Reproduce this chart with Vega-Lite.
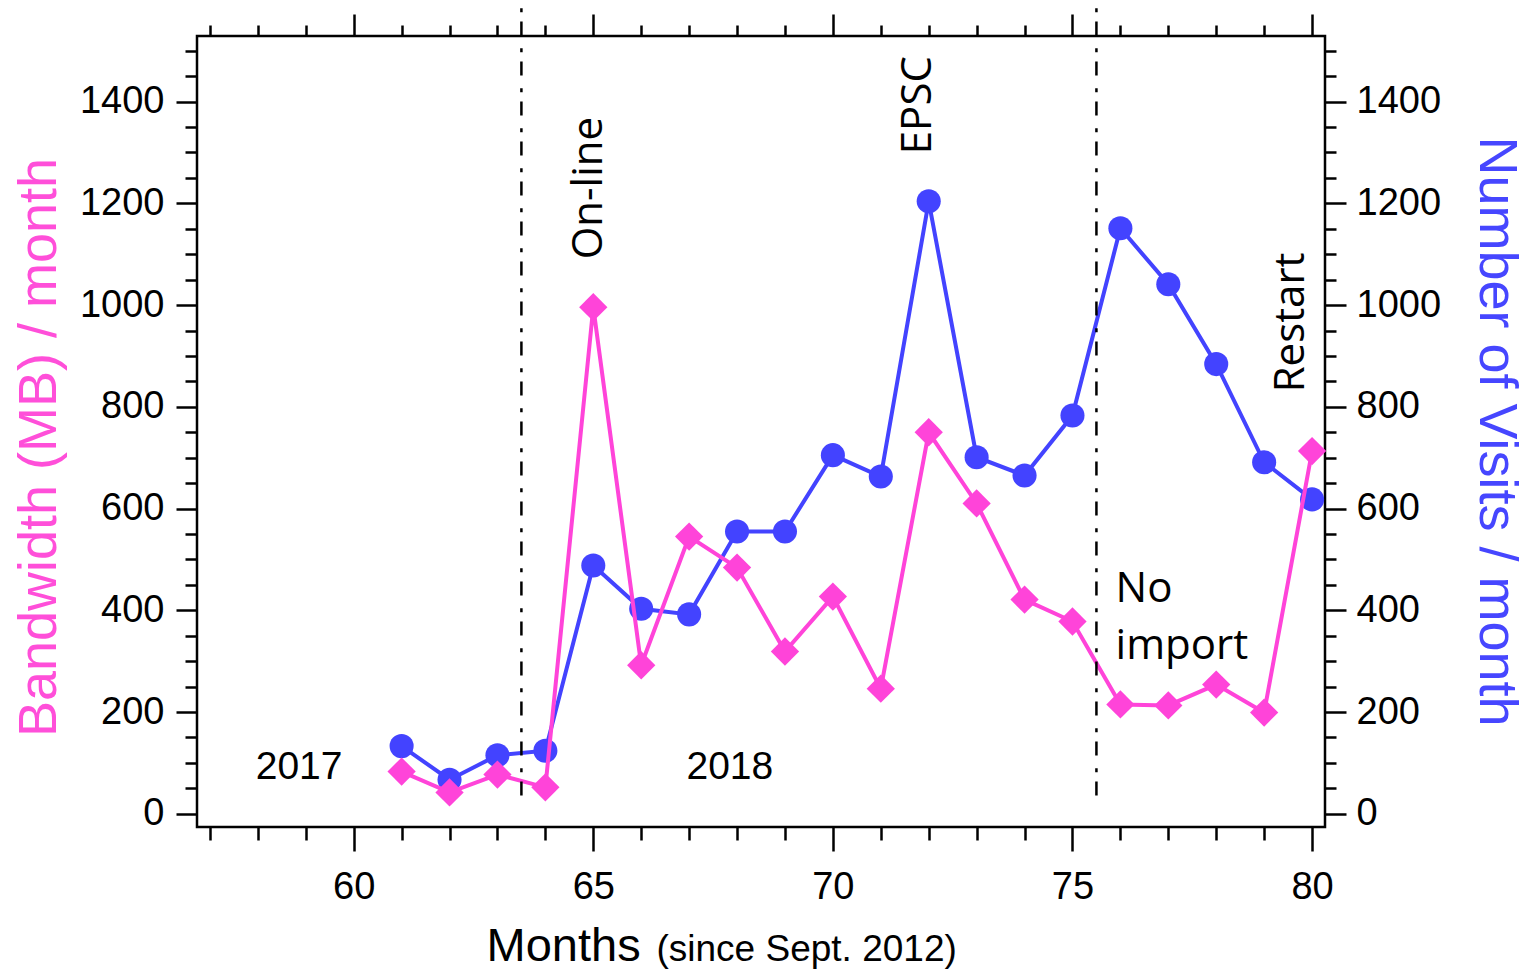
{
  "$schema": "https://vega.github.io/schema/vega-lite/v6.json",
  "autosize": {"type": "none"},
  "width": 1128,
  "height": 791,
  "padding": {"left": 197, "top": 36, "right": 210, "bottom": 142},
  "background": "white",
  "datasets": {
    "series": [
      {"month": 61, "bandwidth": 83, "visits": 133},
      {"month": 62, "bandwidth": 42, "visits": 67},
      {"month": 63, "bandwidth": 77, "visits": 115},
      {"month": 64, "bandwidth": 52, "visits": 124},
      {"month": 65, "bandwidth": 996, "visits": 488},
      {"month": 66, "bandwidth": 292, "visits": 403},
      {"month": 67, "bandwidth": 545, "visits": 392},
      {"month": 68, "bandwidth": 484, "visits": 555},
      {"month": 69, "bandwidth": 319, "visits": 555},
      {"month": 70, "bandwidth": 427, "visits": 705},
      {"month": 71, "bandwidth": 246, "visits": 663},
      {"month": 72, "bandwidth": 750, "visits": 1204},
      {"month": 73, "bandwidth": 610, "visits": 701},
      {"month": 74, "bandwidth": 421, "visits": 665},
      {"month": 75, "bandwidth": 378, "visits": 783},
      {"month": 76, "bandwidth": 215, "visits": 1151},
      {"month": 77, "bandwidth": 213, "visits": 1041},
      {"month": 78, "bandwidth": 254, "visits": 884},
      {"month": 79, "bandwidth": 199, "visits": 691},
      {"month": 80, "bandwidth": 713, "visits": 618}
    ],
    "dividers": [
      {"month": 63.5, "top": 1600, "bottom": 16},
      {"month": 75.5, "top": 1600, "bottom": 16}
    ],
    "events": [
      {"month": 64.91, "value": 1230, "label": "On-line"},
      {"month": 71.77, "value": 1393, "label": "EPSC"},
      {"month": 79.57, "value": 966, "label": "Restart"}
    ],
    "notes": [
      {"month": 75.9, "value": 416, "label": "No"},
      {"month": 75.9, "value": 305, "label": "import"}
    ],
    "years": [
      {"month": 58.86, "value": 67.5, "label": "2017"},
      {"month": 67.85, "value": 67.5, "label": "2018"}
    ]
  },
  "config": {
    "axis": {
      "domain": false,
      "grid": false,
      "tickColor": "black",
      "tickWidth": 2.5,
      "labelFont": "Liberation Sans",
      "labelFontSize": 38,
      "labelColor": "black",
      "labelFlush": false,
      "labelOverlap": false,
      "titleFont": "Liberation Sans",
      "titleFontWeight": "normal",
      "titleColor": "black"
    },
    "view": {"stroke": "black", "strokeWidth": 2.5}
  },
  "resolve": {"axis": {"x": "independent", "y": "independent"}},
  "layer": [
    {
      "data": {"name": "series"},
      "mark": {"type": "line", "color": "#4343ff", "strokeWidth": 4},
      "encoding": {
        "x": {"field": "month", "type": "quantitative",
          "scale": {"domain": [56.73, 80.27], "nice": false, "zero": false},
          "axis": {"orient": "top", "values": [60, 65, 70, 75, 80], "tickSize": 22, "labels": false, "title": null}},
        "y": {"field": "visits", "type": "quantitative",
          "scale": {"domain": [-26, 1529], "nice": false, "zero": false},
          "axis": {"orient": "right", "values": [0, 200, 400, 600, 800, 1000, 1200, 1400], "format": "d", "tickSize": 21, "labelPadding": 10,
            "title": "Number of Visits / month", "titleColor": "#4646ff", "titleFontSize": 54, "titleAngle": 90,
            "titleX": 170, "titleY": 395, "titleAlign": "center", "titleBaseline": "middle"}}
      }
    },
    {
      "data": {"name": "series"},
      "mark": {"type": "point", "shape": "circle", "filled": true, "opacity": 1, "color": "#4343ff", "size": 580},
      "encoding": {
        "x": {"field": "month", "type": "quantitative",
          "scale": {"domain": [56.73, 80.27], "nice": false, "zero": false},
          "axis": {"orient": "top", "values": [57, 58, 59, 61, 62, 63, 64, 66, 67, 68, 69, 71, 72, 73, 74, 76, 77, 78, 79], "tickSize": 11, "labels": false, "title": null}},
        "y": {"field": "visits", "type": "quantitative",
          "scale": {"domain": [-26, 1529], "nice": false, "zero": false},
          "axis": {"orient": "right", "values": [50, 100, 150, 250, 300, 350, 450, 500, 550, 650, 700, 750, 850, 900, 950, 1050, 1100, 1150, 1250, 1300, 1350, 1450, 1500], "tickSize": 11, "labels": false, "title": null}}
      }
    },
    {
      "data": {"name": "series"},
      "mark": {"type": "line", "color": "#ff44d9", "strokeWidth": 4},
      "encoding": {
        "x": {"field": "month", "type": "quantitative",
          "scale": {"domain": [56.73, 80.27], "nice": false, "zero": false},
          "axis": {"orient": "bottom", "values": [60, 65, 70, 75, 80], "format": "d", "tickSize": 24, "labelPadding": 17,
            "title": "Months", "titleFontSize": 47, "titleX": 289, "titleY": 133, "titleAlign": "left", "titleBaseline": "alphabetic"}},
        "y": {"field": "bandwidth", "type": "quantitative",
          "scale": {"domain": [-26, 1529], "nice": false, "zero": false},
          "axis": {"orient": "left", "values": [0, 200, 400, 600, 800, 1000, 1200, 1400], "format": "d", "tickSize": 21, "labelPadding": 12,
            "title": "Bandwidth (MB) / month", "titleColor": "#ff4fd9", "titleFontSize": 54, "titleAngle": 270,
            "titleX": -158, "titleY": 411, "titleAlign": "center", "titleBaseline": "middle"}}
      }
    },
    {
      "data": {"name": "series"},
      "mark": {"type": "point", "shape": "diamond", "filled": true, "opacity": 1, "color": "#ff44d9", "size": 800},
      "encoding": {
        "x": {"field": "month", "type": "quantitative",
          "scale": {"domain": [56.73, 80.27], "nice": false, "zero": false},
          "axis": {"orient": "bottom", "values": [57, 58, 59, 61, 62, 63, 64, 66, 67, 68, 69, 71, 72, 73, 74, 76, 77, 78, 79], "tickSize": 13, "labels": false,
            "title": "(since Sept. 2012)", "titleFontSize": 37, "titleX": 459, "titleY": 133, "titleAlign": "left", "titleBaseline": "alphabetic"}},
        "y": {"field": "bandwidth", "type": "quantitative",
          "scale": {"domain": [-26, 1529], "nice": false, "zero": false},
          "axis": {"orient": "left", "values": [50, 100, 150, 250, 300, 350, 450, 500, 550, 650, 700, 750, 850, 900, 950, 1050, 1100, 1150, 1250, 1300, 1350, 1450, 1500], "tickSize": 12, "labels": false, "title": null}}
      }
    },
    {
      "data": {"name": "dividers"},
      "mark": {"type": "rule", "color": "black", "strokeWidth": 2.5, "strokeDash": [4, 9.4, 14, 12.6], "strokeDashOffset": 31.7},
      "encoding": {
        "x": {"field": "month", "type": "quantitative", "axis": null},
        "y": {"field": "top", "type": "quantitative", "axis": null},
        "y2": {"field": "bottom"}
      }
    },
    {
      "data": {"name": "events"},
      "mark": {"type": "text", "font": "Open Sans", "fontSize": 42, "angle": 270, "align": "center", "baseline": "middle", "color": "black"},
      "encoding": {
        "x": {"field": "month", "type": "quantitative", "axis": null},
        "y": {"field": "value", "type": "quantitative", "axis": null},
        "text": {"field": "label"}
      }
    },
    {
      "data": {"name": "notes"},
      "mark": {"type": "text", "font": "Open Sans", "fontSize": 42, "align": "left", "baseline": "alphabetic", "color": "black"},
      "encoding": {
        "x": {"field": "month", "type": "quantitative", "axis": null},
        "y": {"field": "value", "type": "quantitative", "axis": null},
        "text": {"field": "label"}
      }
    },
    {
      "data": {"name": "years"},
      "mark": {"type": "text", "font": "Liberation Sans", "fontSize": 39, "align": "center", "baseline": "alphabetic", "color": "black"},
      "encoding": {
        "x": {"field": "month", "type": "quantitative", "axis": null},
        "y": {"field": "value", "type": "quantitative", "axis": null},
        "text": {"field": "label"}
      }
    }
  ]
}
